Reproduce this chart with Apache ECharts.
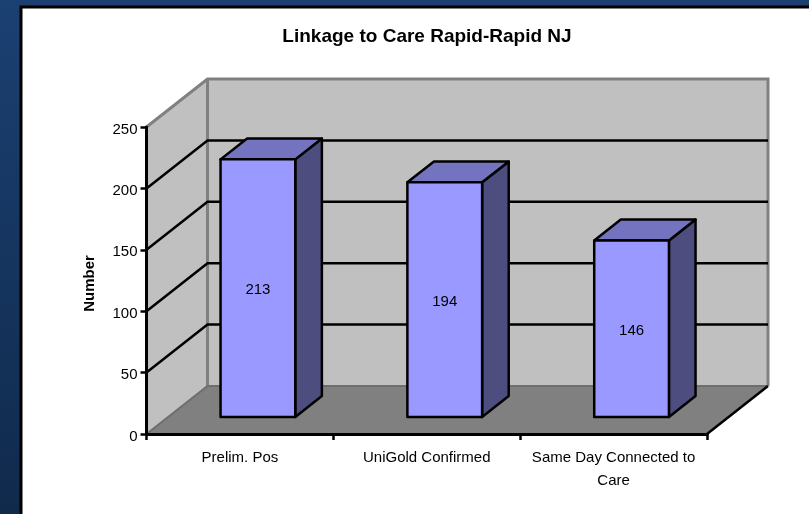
<!DOCTYPE html>
<html>
<head>
<meta charset="utf-8">
<style>
  html, body { margin: 0; padding: 0; background: #fff; }
  #main { width: 809px; height: 514px; }
</style>
<script src="https://cdn.jsdelivr.net/npm/echarts@6/dist/echarts.min.js"></script>
</head>
<body>
<div id="main"></div>
<script>
var categories = ['Prelim. Pos', 'UniGold Confirmed', 'Same Day Connected to\nCare'];
var counts = [213, 194, 146];
var yTicks = [0, 50, 100, 150, 200, 250];

// oblique projection of the old 3d chart
var DEPTH_X = 61;
var DEPTH_Y = 48;
var BAR_W = 0.4;       // share of a category
var BAR_SHIFT = 0.295; // sideways shift of the bar front, in depths
var BAR_FRONT = 0.354; // depth where the bar starts
var BAR_BACK = 0.79;
var BAR_SCALE = 0.985; // bars come out a bit shorter than the wall scale

function poly(points, fill, stroke, width) {
  return {
    type: 'polygon',
    shape: { points: points },
    style: { fill: fill, stroke: stroke, lineWidth: width, lineJoin: 'round' }
  };
}

function line(points, color, width) {
  return {
    type: 'polyline',
    shape: { points: points },
    style: { fill: null, stroke: color, lineWidth: width }
  };
}

function renderWalls(params, api) {
  var c = params.coordSys;
  var x0 = c.x, x1 = c.x + c.width;
  var y0 = api.coord([0, 0])[1];
  var yTop = api.coord([0, 250])[1];
  var children = [
    // floor
    poly([[x0, y0], [x1, y0], [x1 + DEPTH_X, y0 - DEPTH_Y], [x0 + DEPTH_X, y0 - DEPTH_Y]], '#808080', null, 0),
    // side wall
    poly([[x0, y0], [x0 + DEPTH_X, y0 - DEPTH_Y], [x0 + DEPTH_X, yTop - DEPTH_Y], [x0, yTop]], '#c0c0c0', null, 0),
    // back wall
    poly([[x0 + DEPTH_X, y0 - DEPTH_Y], [x1 + DEPTH_X, y0 - DEPTH_Y], [x1 + DEPTH_X, yTop - DEPTH_Y], [x0 + DEPTH_X, yTop - DEPTH_Y]], '#c0c0c0', null, 0)
  ];
  // wall edges
  children.push(line([[x0, yTop], [x0 + DEPTH_X, yTop - DEPTH_Y], [x1 + DEPTH_X, yTop - DEPTH_Y], [x1 + DEPTH_X, y0 - DEPTH_Y]], '#808080', 3));
  children.push(line([[x0 + DEPTH_X, yTop - DEPTH_Y], [x0 + DEPTH_X, y0 - DEPTH_Y]], '#808080', 3));
  children.push(line([[x0, y0], [x0 + DEPTH_X, y0 - DEPTH_Y], [x1 + DEPTH_X, y0 - DEPTH_Y]], '#6e6e6e', 2));
  children.push(line([[x1, y0], [x1 + DEPTH_X, y0 - DEPTH_Y]], '#000', 2.5));
  yTicks.forEach(function (t) {
    var y = api.coord([0, t])[1];
    if (t === 0 || t === 250) return;
    children.push(line([[x0, y], [x0 + DEPTH_X, y - DEPTH_Y], [x1 + DEPTH_X, y - DEPTH_Y]], '#000', 2.5));
  });
  return { type: 'group', children: children };
}

function renderBar(params, api) {
  var cat = api.value(0);
  var base = api.coord([cat, 0]);
  var band = api.size([1, 0])[0];
  var h = (base[1] - api.coord([cat, api.value(1)])[1]) * BAR_SCALE;
  var w = band * BAR_W;
  var l = base[0] - w / 2 + DEPTH_X * BAR_SHIFT;
  var r = l + w;
  var b = base[1] - DEPTH_Y * BAR_FRONT;
  var t = b - h;
  var dx = DEPTH_X * (BAR_BACK - BAR_FRONT);
  var dy = DEPTH_Y * (BAR_BACK - BAR_FRONT);
  return {
    type: 'group',
    children: [
      poly([[r, b], [r + dx, b - dy], [r + dx, t - dy], [r, t]], '#4d4d7f', '#000', 2.5),
      poly([[l, t], [r, t], [r + dx, t - dy], [l + dx, t - dy]], '#7373bf', '#000', 2.5),
      poly([[l, b], [r, b], [r, t], [l, t]], '#9999ff', '#000', 2.5),
      {
        type: 'text',
        style: {
          text: String(api.value(1)),
          x: (l + r) / 2, y: (t + b) / 2 + 2,
          align: 'center', verticalAlign: 'middle',
          fill: '#000', font: '15px "Liberation Sans"'
        }
      }
    ]
  };
}

var chart = echarts.init(document.getElementById('main'), null, { renderer: 'canvas' });
chart.setOption({
  animation: false,
  backgroundColor: '#fff',
  textStyle: { fontFamily: '"Liberation Sans", Arial, sans-serif' },
  graphic: [
    {
      type: 'rect', z: -10, silent: true,
      shape: { x: 0, y: 0, width: 809, height: 514 },
      style: {
        fill: new echarts.graphic.LinearGradient(0, 0, 0, 1, [
          { offset: 0, color: '#1b4072' },
          { offset: 1, color: '#102a4c' }
        ])
      }
    },
    {
      type: 'rect', z: -9, silent: true,
      shape: { x: 21, y: 7, width: 800, height: 520 },
      style: { fill: '#fff', stroke: '#000', lineWidth: 3 }
    }
  ],
  title: {
    text: 'Linkage to Care Rapid-Rapid NJ',
    left: 422, top: 22, textAlign: 'center',
    textStyle: { fontSize: 19, fontWeight: 'bold', color: '#000' }
  },
  grid: { left: 146.5, right: 102, top: 127, bottom: 80, containLabel: false },
  xAxis: {
    type: 'category',
    z: 5,
    data: categories,
    axisLine: { lineStyle: { color: '#000', width: 3 } },
    axisTick: { show: true, length: 6, lineStyle: { color: '#000', width: 2.5 } },
    axisLabel: { color: '#000', fontSize: 15, lineHeight: 23, margin: 12, interval: 0 }
  },
  yAxis: {
    type: 'value',
    z: 5,
    min: 0, max: 250, interval: 50,
    name: 'Number',
    nameLocation: 'middle',
    nameGap: 49,
    nameTextStyle: { color: '#000', fontSize: 15, fontWeight: 'bold', padding: [0, 6, 0, 0] },
    axisLine: { show: true, lineStyle: { color: '#000', width: 3 } },
    axisTick: { show: true, length: 6, lineStyle: { color: '#000', width: 2.5 } },
    axisLabel: { color: '#000', fontSize: 15, margin: 9, verticalAlign: 'top', lineHeight: 5 },
    splitLine: { show: false }
  },
  series: [
    {
      type: 'custom',
      name: 'walls',
      z: 1,
      silent: true,
      renderItem: renderWalls,
      data: [[0, 0]],
      encode: { x: 0, y: 1 }
    },
    {
      type: 'custom',
      name: 'Number',
      z: 2,
      renderItem: renderBar,
      data: counts.map(function (v, i) { return [i, v]; }),
      encode: { x: 0, y: 1 }
    }
  ]
});
</script>
</body>
</html>
